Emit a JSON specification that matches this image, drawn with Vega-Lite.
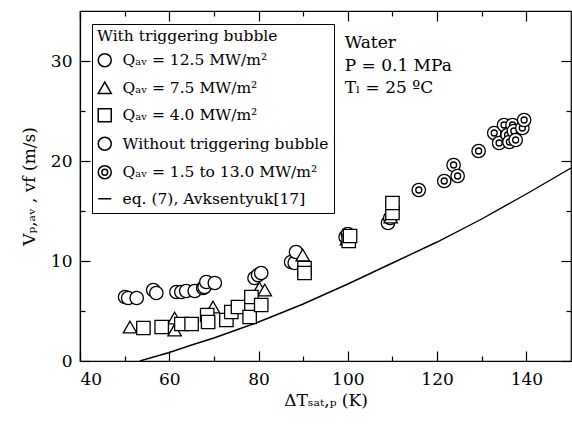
{
  "$schema": "https://vega.github.io/schema/vega-lite/v6.json",
  "width": 491,
  "height": 350,
  "autosize": {"type": "none"},
  "padding": {"left": 80, "top": 11, "right": 1, "bottom": 63},
  "background": "white",
  "config": {
    "font": "DejaVu Serif",
    "view": {"stroke": "black", "strokeWidth": 1.2},
    "axis": {
      "grid": false,
      "domainColor": "black",
      "tickColor": "black",
      "labelColor": "black",
      "titleColor": "black",
      "domainWidth": 1.2,
      "tickWidth": 1.2
    }
  },
  "datasets": {
    "curve": [
      {"T": 53.4, "V": 0}, {"T": 60, "V": 0.85}, {"T": 65, "V": 1.6}, {"T": 70, "V": 2.3},
      {"T": 75, "V": 3.1}, {"T": 80, "V": 3.9}, {"T": 85, "V": 4.8}, {"T": 90, "V": 5.7},
      {"T": 95, "V": 6.7}, {"T": 100, "V": 7.7}, {"T": 110, "V": 9.8}, {"T": 120, "V": 11.9},
      {"T": 130, "V": 14.2}, {"T": 140, "V": 16.7}, {"T": 150, "V": 19.3}
    ],
    "withBubble": [
      {"series": "Qₐᵥ = 12.5 MW/m²", "T": 50.1, "V": 6.4},
      {"series": "Qₐᵥ = 12.5 MW/m²", "T": 50.8, "V": 6.3},
      {"series": "Qₐᵥ = 12.5 MW/m²", "T": 52.7, "V": 6.3},
      {"series": "Qₐᵥ = 12.5 MW/m²", "T": 56.4, "V": 7.1},
      {"series": "Qₐᵥ = 12.5 MW/m²", "T": 57.1, "V": 6.8},
      {"series": "Qₐᵥ = 12.5 MW/m²", "T": 61.6, "V": 6.9},
      {"series": "Qₐᵥ = 12.5 MW/m²", "T": 62.7, "V": 6.9},
      {"series": "Qₐᵥ = 12.5 MW/m²", "T": 63.8, "V": 7.0},
      {"series": "Qₐᵥ = 12.5 MW/m²", "T": 65.7, "V": 7.0},
      {"series": "Qₐᵥ = 12.5 MW/m²", "T": 67.6, "V": 7.3},
      {"series": "Qₐᵥ = 12.5 MW/m²", "T": 67.9, "V": 7.4},
      {"series": "Qₐᵥ = 12.5 MW/m²", "T": 68.3, "V": 7.9},
      {"series": "Qₐᵥ = 12.5 MW/m²", "T": 70.2, "V": 7.8},
      {"series": "Qₐᵥ = 12.5 MW/m²", "T": 79.1, "V": 8.3},
      {"series": "Qₐᵥ = 12.5 MW/m²", "T": 79.9, "V": 8.6},
      {"series": "Qₐᵥ = 12.5 MW/m²", "T": 80.6, "V": 8.8},
      {"series": "Qₐᵥ = 12.5 MW/m²", "T": 87.3, "V": 9.9},
      {"series": "Qₐᵥ = 12.5 MW/m²", "T": 88.1, "V": 9.8},
      {"series": "Qₐᵥ = 12.5 MW/m²", "T": 88.4, "V": 10.9},
      {"series": "Qₐᵥ = 12.5 MW/m²", "T": 99.5, "V": 12.4},
      {"series": "Qₐᵥ = 12.5 MW/m²", "T": 100.0, "V": 12.7},
      {"series": "Qₐᵥ = 12.5 MW/m²", "T": 109.0, "V": 13.8},
      {"series": "Qₐᵥ = 12.5 MW/m²", "T": 109.5, "V": 14.3},
      {"series": "Qₐᵥ = 7.5 MW/m²", "T": 51.2, "V": 3.4},
      {"series": "Qₐᵥ = 7.5 MW/m²", "T": 61.2, "V": 4.3},
      {"series": "Qₐᵥ = 7.5 MW/m²", "T": 61.2, "V": 3.1},
      {"series": "Qₐᵥ = 7.5 MW/m²", "T": 69.8, "V": 5.4},
      {"series": "Qₐᵥ = 7.5 MW/m²", "T": 80.2, "V": 7.3},
      {"series": "Qₐᵥ = 7.5 MW/m²", "T": 81.4, "V": 7.1},
      {"series": "Qₐᵥ = 7.5 MW/m²", "T": 89.9, "V": 10.6},
      {"series": "Qₐᵥ = 7.5 MW/m²", "T": 99.8, "V": 12.2},
      {"series": "Qₐᵥ = 7.5 MW/m²", "T": 109.6, "V": 14.4},
      {"series": "Qₐᵥ =  4.0 MW/m²", "T": 54.2, "V": 3.3},
      {"series": "Qₐᵥ =  4.0 MW/m²", "T": 58.3, "V": 3.4},
      {"series": "Qₐᵥ =  4.0 MW/m²", "T": 62.7, "V": 3.7},
      {"series": "Qₐᵥ =  4.0 MW/m²", "T": 65.0, "V": 3.7},
      {"series": "Qₐᵥ =  4.0 MW/m²", "T": 68.5, "V": 4.6},
      {"series": "Qₐᵥ =  4.0 MW/m²", "T": 68.7, "V": 3.9},
      {"series": "Qₐᵥ =  4.0 MW/m²", "T": 72.8, "V": 4.1},
      {"series": "Qₐᵥ =  4.0 MW/m²", "T": 73.9, "V": 4.9},
      {"series": "Qₐᵥ =  4.0 MW/m²", "T": 75.4, "V": 5.4},
      {"series": "Qₐᵥ =  4.0 MW/m²", "T": 78.0, "V": 4.4},
      {"series": "Qₐᵥ =  4.0 MW/m²", "T": 78.4, "V": 6.4},
      {"series": "Qₐᵥ =  4.0 MW/m²", "T": 80.6, "V": 5.6},
      {"series": "Qₐᵥ =  4.0 MW/m²", "T": 90.3, "V": 9.3},
      {"series": "Qₐᵥ =  4.0 MW/m²", "T": 90.3, "V": 8.8},
      {"series": "Qₐᵥ =  4.0 MW/m²", "T": 100.2, "V": 12.0},
      {"series": "Qₐᵥ =  4.0 MW/m²", "T": 100.5, "V": 12.5},
      {"series": "Qₐᵥ =  4.0 MW/m²", "T": 110.0, "V": 14.8},
      {"series": "Qₐᵥ =  4.0 MW/m²", "T": 110.0, "V": 15.8}
    ],
    "withoutBubble": [
      {"series": "Qₐᵥ =  1.5 to 13.0 MW/m²", "T": 115.9, "V": 17.1},
      {"series": "Qₐᵥ =  1.5 to 13.0 MW/m²", "T": 121.6, "V": 18.0},
      {"series": "Qₐᵥ =  1.5 to 13.0 MW/m²", "T": 123.7, "V": 19.6},
      {"series": "Qₐᵥ =  1.5 to 13.0 MW/m²", "T": 124.6, "V": 18.5},
      {"series": "Qₐᵥ =  1.5 to 13.0 MW/m²", "T": 129.3, "V": 21.0},
      {"series": "Qₐᵥ =  1.5 to 13.0 MW/m²", "T": 132.8, "V": 22.8},
      {"series": "Qₐᵥ =  1.5 to 13.0 MW/m²", "T": 133.9, "V": 21.8},
      {"series": "Qₐᵥ =  1.5 to 13.0 MW/m²", "T": 135.0, "V": 23.6},
      {"series": "Qₐᵥ =  1.5 to 13.0 MW/m²", "T": 135.8, "V": 22.6},
      {"series": "Qₐᵥ =  1.5 to 13.0 MW/m²", "T": 136.2, "V": 21.9},
      {"series": "Qₐᵥ =  1.5 to 13.0 MW/m²", "T": 136.9, "V": 23.6},
      {"series": "Qₐᵥ =  1.5 to 13.0 MW/m²", "T": 137.2, "V": 23.0},
      {"series": "Qₐᵥ =  1.5 to 13.0 MW/m²", "T": 137.6, "V": 22.1},
      {"series": "Qₐᵥ =  1.5 to 13.0 MW/m²", "T": 139.1, "V": 23.3},
      {"series": "Qₐᵥ =  1.5 to 13.0 MW/m²", "T": 139.5, "V": 24.1}
    ]
  },
  "layer": [
    {
      "data": {"name": "curve"},
      "mark": {"type": "line", "color": "black", "strokeWidth": 1.4, "clip": true},
      "encoding": {
        "x": {
          "field": "T", "type": "quantitative",
          "scale": {"domain": [40, 150], "nice": false, "zero": false},
          "axis": {"orient": "bottom", "values": [40, 60, 80, 100, 120, 140], "tickSize": -10, "labelPadding": 20, "labelFont": "DejaVu Serif", "labelFontSize": 17, "title": "ΔTₛₐₜ,ₚ (K)", "titleFont": "DejaVu Serif", "titleFontSize": 17, "titleFontWeight": "normal", "titlePadding": 5}
        },
        "y": {
          "field": "V", "type": "quantitative",
          "scale": {"domain": [0, 35], "nice": false},
          "axis": {"orient": "left", "values": [0, 10, 20, 30], "tickSize": -10, "labelPadding": 18, "labelFont": "DejaVu Serif", "labelFontSize": 17, "title": "Vₚ,ₐᵥ , vf (m/s)", "titleFont": "DejaVu Serif", "titleFontSize": 17, "titleFontWeight": "normal", "titlePadding": 12}
        }
      }
    },
    {
      "data": {"name": "withBubble"},
      "mark": {"type": "point", "filled": false, "fill": "white", "stroke": "black", "strokeWidth": 1.3, "opacity": 1, "size": 180},
      "encoding": {
        "x": {"field": "T", "type": "quantitative", "axis": {"orient": "bottom", "values": [50, 70, 90, 110, 130], "tickSize": -5, "labels": false, "domain": false, "title": null}},
        "y": {"field": "V", "type": "quantitative", "axis": {"orient": "left", "values": [5, 15, 25], "tickSize": -5, "labels": false, "domain": false, "title": null}},
        "shape": {
          "field": "series", "type": "nominal",
          "scale": {
            "domain": ["Qₐᵥ = 12.5 MW/m²", "Qₐᵥ = 7.5 MW/m²", "Qₐᵥ =  4.0 MW/m²", "Without triggering bubble", "Qₐᵥ =  1.5 to 13.0 MW/m²", "eq. (7), Avksentyuk[17]"],
            "range": ["circle", "triangle-up", "square", "circle", "M-1,0A1,1,0,1,0,1,0A1,1,0,1,0,-1,0ZM-0.45,0A0.45,0.45,0,1,0,0.45,0A0.45,0.45,0,1,0,-0.45,0Z", "stroke"]
          },
          "legend": {
            "title": "With triggering bubble",
            "orient": "none",
            "legendX": 12,
            "legendY": 13,
            "strokeColor": "black",
            "fillColor": "white",
            "padding": 5,
            "titleFont": "DejaVu Serif",
            "titleFontSize": 15.5,
            "titleFontWeight": "normal",
            "titleColor": "black",
            "titleLimit": 400,
            "titlePadding": 8,
            "labelFont": "DejaVu Serif",
            "labelFontSize": 15.5,
            "labelColor": "black",
            "labelLimit": 400,
            "rowPadding": 8.5,
            "symbolSize": 170,
            "labelOffset": 10,
            "encode": {
              "symbols": {
                "opacity": {"signal": "datum.value === 'Without triggering bubble' ? 0 : 1"},
                "update": {
                  "opacity": {"signal": "datum.value === 'Without triggering bubble' ? 0 : 1"}
                }
              }
            }
          }
        }
      }
    },
    {
      "data": {"name": "withoutBubble"},
      "mark": {"type": "point", "filled": false, "fill": "white", "stroke": "black", "strokeWidth": 1.3, "opacity": 1, "size": 180},
      "encoding": {
        "x": {"field": "T", "type": "quantitative", "axis": {"orient": "top", "values": [40, 60, 80, 100, 120, 140], "tickSize": -10, "labels": false, "domain": false, "title": null}},
        "y": {"field": "V", "type": "quantitative", "axis": {"orient": "right", "values": [0, 10, 20, 30], "tickSize": -10, "labels": false, "domain": false, "title": null}},
        "shape": {"field": "series", "type": "nominal"}
      }
    },
    {
      "data": {"values": [{}]},
      "mark": {"type": "text", "text": ["Water", "P = 0.1 MPa", "Tₗ = 25 ºC"], "align": "left", "baseline": "middle", "lineHeight": 22.5, "fontSize": 17, "font": "DejaVu Serif", "color": "black"},
      "encoding": {
        "x": {"datum": 99.3, "type": "quantitative", "axis": {"orient": "top", "values": [50, 70, 90, 110, 130], "tickSize": -5, "labels": false, "domain": false, "title": null}},
        "y": {"datum": 31.8, "type": "quantitative", "axis": {"orient": "right", "values": [5, 15, 25], "tickSize": -5, "labels": false, "domain": false, "title": null}}
      }
    }
  ],
  "resolve": {"axis": {"x": "independent", "y": "independent"}}
}
